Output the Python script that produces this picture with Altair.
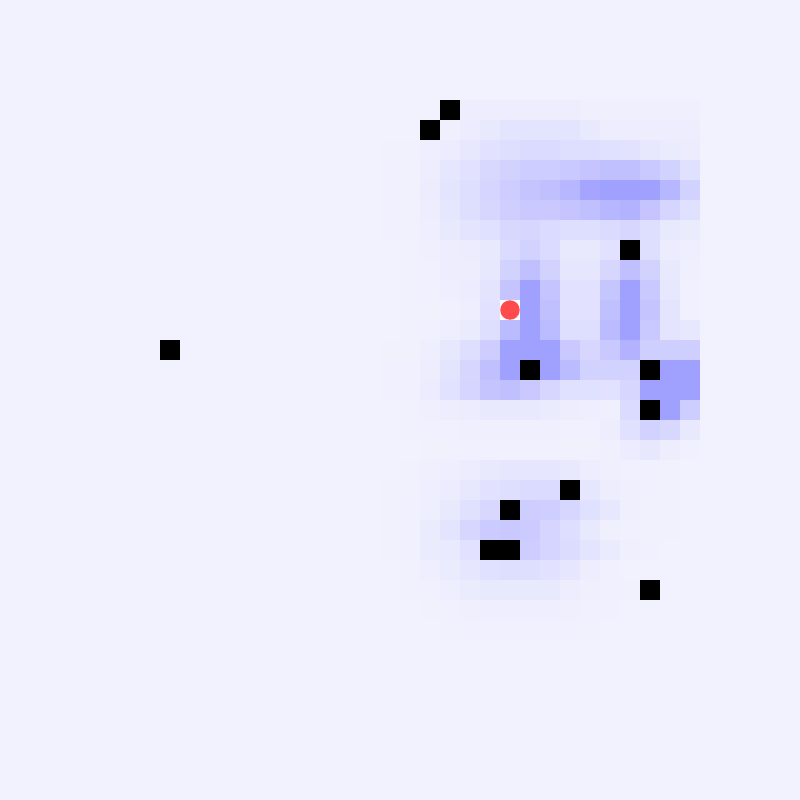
import altair as alt
import pandas as pd

GRID = 40
COL0 = 18
ROW0 = 4

# heat intensity (0 = background, 9 = strongest), columns 18..34, rows 4..31
heat_rows = [
    [0, 0, 0, 0, 0, 0, 0, 0, 0, 0, 0, 0, 0, 0, 0, 0, 0],
    [0, 0, 0, 0, 0, .5, .5, .5, .5, .5, .5, .3, .3, .3, .3, .3, .3],
    [0, 0, 0, 0, .3, .7, 1, 1.5, 1.5, 1.5, 1.5, 1, .5, .5, .5, .5, .5],
    [0, .1, .1, .4, .7, 1.2, 1.8, 2.2, 2.5, 2.5, 2.2, 2.2, 2, 1.7, 1.2, .8, .6],
    [0, .2, .15, .5, 1.3, 1.8, 2.8, 3.5, 4, 4, 4.5, 5, 5.5, 5.5, 4.5, 3.5, 2],
    [0, .2, .15, .6, 1.5, 2.2, 3.2, 4, 5, 5.5, 6.5, 8.5, 9, 9, 9, 6.5, 3.5],
    [0, .2, .15, .5, 1.3, 2.2, 3, 3.8, 4.5, 4.5, 5, 5.5, 6.5, 7, 5, 3.2, 2],
    [0, .2, .15, .4, 1, 1.5, 2, 2.8, 3, 2.5, 2.2, 2.2, 2.5, 3, 2.2, 1, .8],
    [0, .05, .1, .3, .5, .6, 1, 2.5, 3.5, 2.5, 1, 1, 1.8, 0, 2.2, .6, .4],
    [0, 0, .1, .2, .5, .5, 1.2, 3.5, 5.5, 3.5, 1.3, 1.3, 3, 5.5, 3.5, 1, .3],
    [0, 0, .1, .2, .4, .6, 1.5, 5, 9, 5, 1.8, 1.8, 4.8, 9, 4.5, 1.2, .2],
    [0, 0, .1, .1, .2, .4, 1.8, 0, 9, 5.5, 1.8, 1.8, 5.5, 9, 5, 1.5, .2],
    [0, 0, .1, .2, .4, .8, 2.2, 6, 9, 6, 2.2, 2.2, 6, 9, 4.5, 1.5, 1.2],
    [0, .1, .15, .4, 1.2, 2.2, 4, 9, 9, 9, 4.5, 3, 4.5, 7, 3.8, 3.8, 3.8],
    [0, .2, .2, .5, 1.5, 3, 5.5, 9, 0, 9, 6, 3.5, 3.5, 3.5, 0, 9, 9],
    [0, .2, .2, .7, 1.8, 3.2, 5, 5.5, 4.5, 3, 2, 2, 1.8, 3, 9, 9, 9],
    [0, .05, .1, .3, .5, .7, 1, 1, 1, .8, .5, .4, .3, 2.5, 0, 9, 4],
    [0, 0, .1, .2, .2, .3, .3, .3, .3, .3, .2, .2, .5, 2, 3.5, 2.8, 1],
    [0, 0, 0, .1, .1, .2, .2, .2, .2, .2, .1, .1, .3, .6, 1.2, .5, .2],
    [0, .05, .15, .3, .4, .6, 1, 1.3, 1.3, 1.3, 1, .5, .3, .2, .2, .1, 0],
    [0, .1, .15, .4, .6, 1.2, 1.8, 2.2, 2.5, 2.5, 0, 1.3, .5, .3, .2, .1, 0],
    [0, .15, .2, .4, 1, 2, 2.8, 0, 4, 3.8, 3, 2, 1.2, .3, .1, .1, 0],
    [0, .15, .25, .8, 1.5, 3, 4.2, 4.5, 4.2, 3.2, 2.2, 1, .3, .2, .1, .1, 0],
    [0, .15, .25, .8, .9, 1.8, 0, 0, 4, 3.2, 2.4, 1.5, .8, .3, .2, 0, 0],
    [0, .05, .15, .4, .8, 1.3, 2, 2.2, 2.2, 1.8, 1.3, .5, .2, 0, 0, 0, 0],
    [0, 0, .1, .2, .4, .8, 1, 1, 1, 1, .5, .3, .2, .1, 0, 0, 0],
    [0, 0, 0, .1, .2, .3, .4, .4, .4, .4, .3, .2, .2, 0, 0, 0, 0],
    [0, 0, 0, 0, .1, .2, .2, .2, .2, .2, .2, .1, 0, 0, 0, 0, 0],
]

obstacle_cols = [22, 21, 31, 8, 26, 32, 32, 28, 25, 24, 25, 32]
obstacle_rows = [5, 6, 12, 17, 18, 18, 20, 24, 25, 27, 27, 29]

agent_col = [25]
agent_row = [15]

heat = []
for i, row in enumerate(heat_rows):
    for j, v in enumerate(row):
        c = COL0 + j
        r = ROW0 + i
        heat.append({"c": c, "c2": c + 1, "r": r, "r2": r + 1, "v": v})
heat_df = pd.DataFrame(heat)

obs_df = pd.DataFrame({"c": obstacle_cols, "r": obstacle_rows})
obs_df["c2"] = obs_df["c"] + 1
obs_df["r2"] = obs_df["r"] + 1

agent_df = pd.DataFrame({"c": agent_col, "r": agent_row})
agent_df["c2"] = agent_df["c"] + 1
agent_df["r2"] = agent_df["r"] + 1
agent_df["cm"] = agent_df["c"] + 0.5
agent_df["rm"] = agent_df["r"] + 0.5

xs = alt.Scale(domain=[0, GRID], nice=False, zero=False)
ys = alt.Scale(domain=[0, GRID], nice=False, zero=False, reverse=True)

heat_layer = alt.Chart(heat_df).mark_rect(strokeWidth=0).encode(
    x=alt.X("c:Q", scale=xs, axis=None),
    x2="c2:Q",
    y=alt.Y("r:Q", scale=ys, axis=None),
    y2="r2:Q",
    color=alt.Color("v:Q", scale=alt.Scale(domain=[0, 9], range=["#f2f2fe", "#a0a0fe"]), legend=None),
)

obs_layer = alt.Chart(obs_df).mark_rect(color="#000000", strokeWidth=0).encode(
    x=alt.X("c:Q", scale=xs, axis=None),
    x2="c2:Q",
    y=alt.Y("r:Q", scale=ys, axis=None),
    y2="r2:Q",
)

agent_cell = alt.Chart(agent_df).mark_rect(color="#ffffff", strokeWidth=0).encode(
    x=alt.X("c:Q", scale=xs, axis=None),
    x2="c2:Q",
    y=alt.Y("r:Q", scale=ys, axis=None),
    y2="r2:Q",
)

agent_dot = alt.Chart(agent_df).mark_circle(color="#ff4b4b", opacity=1, size=380).encode(
    x=alt.X("cm:Q", scale=xs, axis=None),
    y=alt.Y("rm:Q", scale=ys, axis=None),
)

chart = alt.layer(heat_layer, obs_layer, agent_cell, agent_dot).properties(
    width=800, height=800, padding=0, autosize="none", background="#f2f2fe"
).configure_view(strokeWidth=0)

chart.save("out.html", embed_options={"renderer": "svg", "actions": False})
